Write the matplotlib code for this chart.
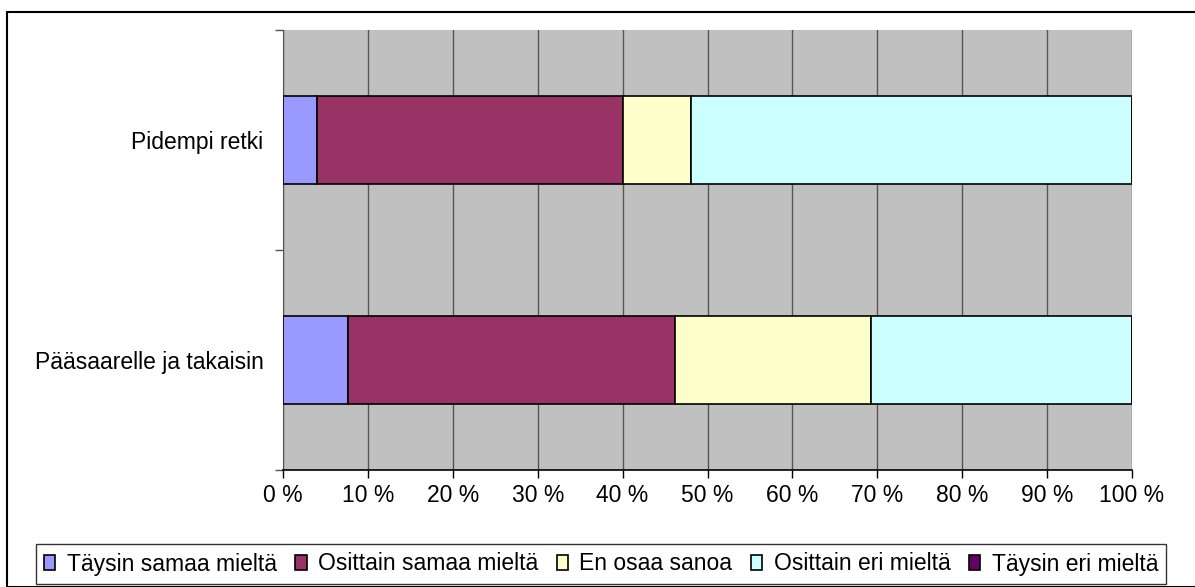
import matplotlib.pyplot as plt
from matplotlib.patches import Rectangle
import numpy as np

plt.rcParams['font.family'] = ['Liberation Sans', 'DejaVu Sans']

categories = ['Pääsaarelle ja takaisin', 'Pidempi retki']
series = ['Täysin samaa mieltä', 'Osittain samaa mieltä', 'En osaa sanoa',
          'Osittain eri mieltä', 'Täysin eri mieltä']
values = {
  'Täysin samaa mieltä': [7.7, 4.0],
  'Osittain samaa mieltä': [38.5, 36.0],
  'En osaa sanoa': [23.1, 8.0],
  'Osittain eri mieltä': [30.7, 52.0],
  'Täysin eri mieltä': [0.0, 0.0],
}
colors = ['#9999FF', '#993366', '#FFFFCC', '#CCFFFF', '#660066']
xticks = np.arange(0, 101, 10)
xticklabels = [f'{t} %' for t in xticks]

fig = plt.figure(figsize=(11.95, 5.87), dpi=100)
fig.patches.append(Rectangle((7/1195, 0), 1.2, 1 - 12/587, transform=fig.transFigure,
                             fill=False, edgecolor='black', linewidth=1.5))
ax = fig.add_axes([283/1195, 1 - 470/587, 849/1195, 440/587])
ax.set_facecolor('#C0C0C0')

y = np.arange(len(categories))
left = np.zeros(len(categories))
for name, c in zip(series, colors):
  v = np.array(values[name])
  ax.barh(y, v, left=left, height=0.4, color=c, edgecolor='black',
          linewidth=1.2, label=name, zorder=3)
  left += v

ax.set_xlim(0, 100)
ax.set_ylim(-0.5, 1.5)
ax.set_xticks(xticks)
ax.set_xticklabels(xticklabels, fontsize=16.5)
ax.set_yticks(y)
ax.set_yticklabels(categories, fontsize=16.5)
ax.tick_params(axis='y', length=0, pad=14)
ax.set_yticks([-0.5, 0.5, 1.5], minor=True)
ax.tick_params(axis='y', which='minor', length=6, width=1, color='#555555')
ax.tick_params(axis='x', length=6, width=1, pad=4)
ax.grid(axis='x', color='#555555', linewidth=1, zorder=1)
ax.set_axisbelow(True)
for s in ['top', 'right']:
  ax.spines[s].set_visible(False)
ax.spines['left'].set_color('#555555')
ax.spines['bottom'].set_linewidth(1.2)

handles, labels = ax.get_legend_handles_labels()
leg = fig.legend(handles, labels, loc='center', ncol=5, fontsize=16.5,
                 bbox_to_anchor=(601/1195, 1 - 564/587), frameon=True,
                 fancybox=False, edgecolor='black', handlelength=0.5,
                 handleheight=0.6, handletextpad=0.5, columnspacing=0.8,
                 borderpad=0.35, borderaxespad=0)
leg.get_frame().set_linewidth(1)

fig.savefig('out.png', dpi=100)
